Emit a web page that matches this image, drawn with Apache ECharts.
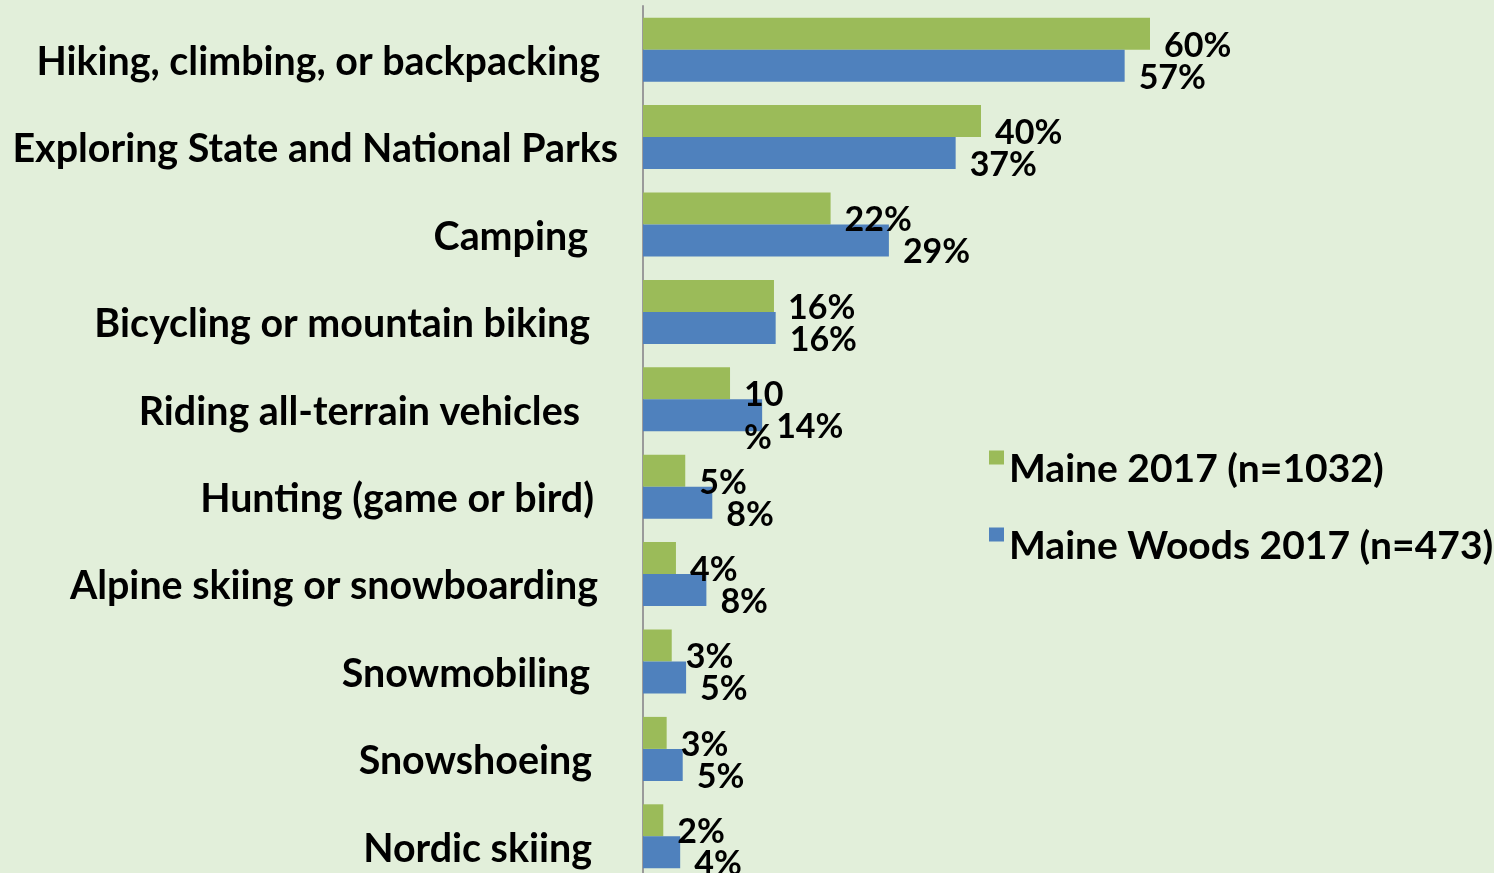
<!DOCTYPE html>
<html>
<head>
<meta charset="utf-8">
<script src="https://cdn.jsdelivr.net/npm/echarts@6/dist/echarts.min.js"></script>
<style>
html,body{margin:0;padding:0;background:#E2EFDA;}
#chart{width:1494px;height:873px;}
</style>
</head>
<body>
<div id="chart"></div>
<script>
// activities, top to bottom
const categories = [
    'Hiking, climbing, or backpacking',
    'Exploring State and National Parks',
    'Camping',
    'Bicycling or mountain biking',
    'Riding all-terrain vehicles',
    'Hunting (game or bird)',
    'Alpine skiing or snowboarding',
    'Snowmobiling',
    'Snowshoeing',
    'Nordic skiing'
];
const seriesNames = ['Maine 2017 (n=1032)', 'Maine Woods 2017 (n=473)'];
// percent of respondents
const maine2017 = [60, 40, 22.2, 15.5, 10.3, 5, 3.9, 3.4, 2.8, 2.4];
const maineWoods2017 = [57, 37, 29.1, 15.7, 14.1, 8.2, 7.5, 5.1, 4.7, 4.4];

// right padding of each activity label (the source labels are not flush)
const labelPad = [18, 0, 30, 28, 38, 24, 20, 28, 26, 26];

const font = 'Lato';
const rich = {};
labelPad.forEach((p, i) => {
    rich['c' + i] = {
        fontFamily: font,
        fontWeight: 'bold',
        fontSize: 39.4,
        color: '#000',
        padding: [25, p, 0, 0]
    };
});

const chart = echarts.init(document.getElementById('chart'));
const barLabel = {
    show: true,
    position: 'right',
    distance: 14,
    offset: [0, 12],
    formatter: (p) => Math.round(p.value) + '%',
    fontFamily: font,
    fontWeight: 'bold',
    fontSize: 34,
    color: '#000'
};

// the "10%" label wraps onto two lines in the original chart
const greenData = maine2017.map((v, i) => i === 4 ? {
    value: v,
    label: {formatter: '10\n%', lineHeight: 43, offset: [0, 33]}
} : v);

chart.setOption({
    backgroundColor: '#E2EFDA',
    animation: false,
    grid: {
        left: 643,
        top: 6,
        width: 845,
        height: 874,
        outerBoundsMode: 'none'
    },
    legend: {
        orient: 'vertical',
        left: 984,
        top: 445,
        icon: 'rect',
        itemWidth: 15,
        itemHeight: 14,
        itemGap: 38,
        data: seriesNames,
        formatter: '{t|{name}}',
        textStyle: {
            rich: {
                t: {
                    fontFamily: font,
                    fontWeight: 'bold',
                    fontSize: 39,
                    color: '#000',
                    padding: [24, 0, 0, 0]
                }
            }
        }
    },
    xAxis: {
        type: 'value',
        min: 0,
        max: 100,
        show: false
    },
    yAxis: {
        type: 'category',
        data: categories,
        inverse: true,
        axisLine: {show: true, lineStyle: {color: '#9A9A9A', width: 2}},
        axisTick: {show: false},
        splitLine: {show: false},
        axisLabel: {
            margin: 25,
            formatter: (value, index) => '{c' + index + '|' + value + '}',
            rich: rich
        }
    },
    series: [{
        name: seriesNames[0],
        type: 'bar',
        data: greenData,
        barWidth: 32,
        barGap: '0%',
        itemStyle: {color: '#9BBB59'},
        label: barLabel
    }, {
        name: seriesNames[1],
        type: 'bar',
        data: maineWoods2017,
        barWidth: 32,
        barGap: '0%',
        itemStyle: {color: '#4F81BD'},
        label: barLabel
    }]
});
</script>
</body>
</html>
